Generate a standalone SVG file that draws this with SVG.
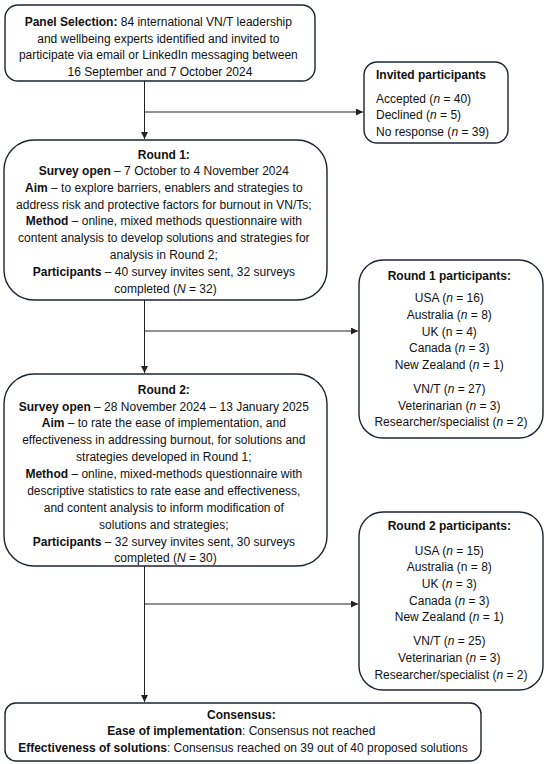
<svg xmlns="http://www.w3.org/2000/svg" width="550" height="764" viewBox="0 0 550 764">
<style>
.box{fill:#fff;stroke:#1c2330;stroke-width:1.4}
.t{font-family:"Liberation Sans",Arial,sans-serif;font-size:12px;fill:#111}
.c{text-anchor:middle}
.b{font-weight:bold}
.i{font-style:italic}
.ln{fill:none;stroke:#222;stroke-width:1}
</style>
<defs>
<marker id="ah" markerUnits="userSpaceOnUse" markerWidth="8" markerHeight="8" refX="7" refY="3.5" orient="auto">
<path d="M0,0 L7,3.5 L0,7 z" fill="#222"/>
</marker>
</defs>
<rect width="550" height="764" fill="#fff"/>
<g id="connectors">
<path class="ln" d="M144.5,81 V139" marker-end="url(#ah)"/>
<path class="ln" d="M144.5,112 H363" marker-end="url(#ah)"/>
<path class="ln" d="M144.5,300 V373" marker-end="url(#ah)"/>
<path class="ln" d="M144.5,331 H358" marker-end="url(#ah)"/>
<path class="ln" d="M144.5,566 V702" marker-end="url(#ah)"/>
<path class="ln" d="M144.5,604 H358" marker-end="url(#ah)"/>
</g>
<g id="panel">
<rect class="box" x="5" y="5" width="310" height="76" rx="13"/>
<text class="t c" x="160">
<tspan x="160" y="26"><tspan class="b">Panel Selection:</tspan> 84 international VN/T leadership</tspan>
<tspan x="160" y="42.5">and wellbeing experts identified and invited to</tspan>
<tspan x="160" y="59">participate via email or LinkedIn messaging between</tspan>
<tspan x="160" y="75.5">16 September and 7 October 2024</tspan>
</text>
</g>
<g id="invited">
<rect class="box" x="364" y="62" width="144" height="81" rx="13"/>
<text class="t" x="376">
<tspan x="376" y="78.5" class="b">Invited participants</tspan>
<tspan x="376" y="102.5">Accepted (<tspan class="i">n</tspan> = 40)</tspan>
<tspan x="376" y="119">Declined (<tspan class="i">n</tspan> = 5)</tspan>
<tspan x="376" y="135.5">No response (<tspan class="i">n</tspan> = 39)</tspan>
</text>
</g>
<g id="round1">
<rect class="box" x="4" y="140" width="323" height="160" rx="30"/>
<text class="t c" x="165.5">
<tspan x="165.5" y="158.5" class="b">Round 1:</tspan>
<tspan x="165.5" y="175"><tspan class="b">Survey open</tspan> – 7 October to 4 November 2024</tspan>
<tspan x="165.5" y="192"><tspan class="b">Aim</tspan> – to explore barriers, enablers and strategies to</tspan>
<tspan x="165.5" y="208.5">address risk and protective factors for burnout in VN/Ts;</tspan>
<tspan x="165.5" y="225"><tspan class="b">Method</tspan> – online, mixed methods questionnaire with</tspan>
<tspan x="165.5" y="242">content analysis to develop solutions and strategies for</tspan>
<tspan x="165.5" y="258.5">analysis in Round 2;</tspan>
<tspan x="165.5" y="275.5"><tspan class="b">Participants</tspan> – 40 survey invites sent, 32 surveys</tspan>
<tspan x="165.5" y="292.5">completed (<tspan class="i">N</tspan> = 32)</tspan>
</text>
</g>
<g id="round1-participants">
<rect class="box" x="359" y="260" width="184" height="178" rx="24"/>
<text class="t c" x="451">
<tspan x="451" y="279.5" class="b">Round 1 participants:</tspan>
<tspan x="451" y="302">USA (<tspan class="i">n</tspan> = 16)</tspan>
<tspan x="451" y="318.5">Australia (<tspan class="i">n</tspan> = 8)</tspan>
<tspan x="451" y="335.5">UK (n = 4)</tspan>
<tspan x="451" y="352">Canada (<tspan class="i">n</tspan> = 3)</tspan>
<tspan x="451" y="369">New Zealand (<tspan class="i">n</tspan> = 1)</tspan>
<tspan x="451" y="393">VN/T (<tspan class="i">n</tspan> = 27)</tspan>
<tspan x="451" y="409.5">Veterinarian (<tspan class="i">n</tspan> = 3)</tspan>
<tspan x="451" y="426">Researcher/specialist (<tspan class="i">n</tspan> = 2)</tspan>
</text>
</g>
<g id="round2">
<rect class="box" x="4" y="374" width="323" height="192" rx="30"/>
<text class="t c" x="165.5">
<tspan x="165.5" y="394" class="b">Round 2:</tspan>
<tspan x="165.5" y="410.5"><tspan class="b">Survey open</tspan> – 28 November 2024 – 13 January 2025</tspan>
<tspan x="165.5" y="427"><tspan class="b">Aim</tspan> – to rate the ease of implementation, and</tspan>
<tspan x="165.5" y="444">effectiveness in addressing burnout, for solutions and</tspan>
<tspan x="165.5" y="461">strategies developed in Round 1;</tspan>
<tspan x="165.5" y="478"><tspan class="b">Method</tspan> – online, mixed-methods questionnaire with</tspan>
<tspan x="165.5" y="495">descriptive statistics to rate ease and effectiveness,</tspan>
<tspan x="165.5" y="511.5">and content analysis to inform modification of</tspan>
<tspan x="165.5" y="528.5">solutions and strategies;</tspan>
<tspan x="165.5" y="545.5"><tspan class="b">Participants</tspan> – 32 survey invites sent, 30 surveys</tspan>
<tspan x="165.5" y="562">completed (<tspan class="i">N</tspan> = 30)</tspan>
</text>
</g>
<g id="round2-participants">
<rect class="box" x="359" y="512" width="184" height="178" rx="24"/>
<text class="t c" x="451">
<tspan x="451" y="529.5" class="b">Round 2 participants:</tspan>
<tspan x="451" y="554.5">USA (<tspan class="i">n</tspan> = 15)</tspan>
<tspan x="451" y="571">Australia (n = 8)</tspan>
<tspan x="451" y="588">UK (<tspan class="i">n</tspan> = 3)</tspan>
<tspan x="451" y="604.5">Canada (<tspan class="i">n</tspan> = 3)</tspan>
<tspan x="451" y="621">New Zealand (<tspan class="i">n</tspan> = 1)</tspan>
<tspan x="451" y="645">VN/T (<tspan class="i">n</tspan> = 25)</tspan>
<tspan x="451" y="662">Veterinarian (<tspan class="i">n</tspan> = 3)</tspan>
<tspan x="451" y="678.5">Researcher/specialist (<tspan class="i">n</tspan> = 2)</tspan>
</text>
</g>
<g id="consensus">
<rect class="box" x="5" y="703" width="476" height="58" rx="11"/>
<text class="t c" x="243">
<tspan x="243" y="719" class="b">Consensus:</tspan>
<tspan x="243" y="735"><tspan class="b">Ease of implementation</tspan>: Consensus not reached</tspan>
<tspan x="243" y="751.5"><tspan class="b">Effectiveness of solutions</tspan>: Consensus reached on 39 out of 40 proposed solutions</tspan>
</text>
</g>
</svg>
